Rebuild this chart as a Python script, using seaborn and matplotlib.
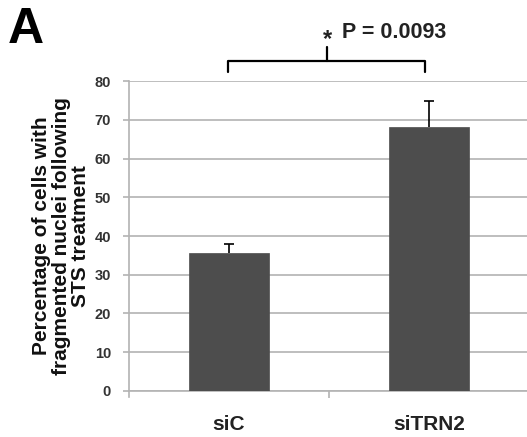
import matplotlib
matplotlib.use("Agg")
import matplotlib.pyplot as plt
import numpy as np
import pandas as pd
import seaborn as sns

# ─── Data ─────────────────────────────────────────────────────────────────────
groups = ["siC", "siTRN2"]
pct_fragmented = [35.6, 68.1]
err_upper = [2.3, 6.7]
y_ticks = [0, 10, 20, 30, 40, 50, 60, 70, 80]

BAR = "#4d4d4d"
GRID = "#b3b3b3"
TXT = "#333333"

sns.set_style("white")
plt.rcParams["font.family"] = ["Liberation Sans", "DejaVu Sans"]

df = pd.DataFrame({"group": groups, "pct": pct_fragmented})

fig = plt.figure(figsize=(5.27, 4.37), dpi=100)
ax = fig.add_axes([0.2448, 0.1053, 0.759, 0.7093])

sns.barplot(data=df, x="group", y="pct", color=BAR, width=0.4, ax=ax,
            edgecolor=BAR, linewidth=0.5, zorder=3)
_, caps, _ = ax.errorbar(np.arange(len(groups)), pct_fragmented,
                         yerr=[np.zeros(len(groups)), err_upper],
                         fmt="none", ecolor="black", elinewidth=1.2,
                         capsize=3.5, capthick=1.2, zorder=4)
caps[0].set_visible(False)  # one-sided error bars only

ax.set_xlim(-0.5, 1.5)
ax.set_ylim(0, 80)
ax.set_yticks(y_ticks)
ax.set_yticklabels([str(t) for t in y_ticks], fontsize=10.5, fontweight="bold", color=TXT)
ax.yaxis.grid(True, color=GRID, linewidth=1.2, zorder=0)
ax.set_axisbelow(True)
for s in ["top", "right"]:
    ax.spines[s].set_visible(False)
ax.spines["left"].set_color(GRID)
ax.spines["left"].set_linewidth(1.2)
ax.spines["bottom"].set_color(GRID)
ax.spines["bottom"].set_linewidth(1.2)
ax.spines["left"].set_bounds(-1.5, 80)

ax.tick_params(axis="y", which="major", left=True, length=4, width=1.2, color=GRID, pad=9)

# x ticks: labels under bars, tick mark only between categories
ax.set_xticks([0, 1])
ax.set_xticklabels(groups, fontsize=15, fontweight="bold", color="#222222")
ax.tick_params(axis="x", length=0, pad=17)
ax.set_xticks([0.5], minor=True)
ax.tick_params(axis="x", which="minor", bottom=True, length=5, width=1.2, color=GRID)
ax.set_xlabel("")
ax.set_ylabel("Percentage of cells with\nfragmented nuclei following\nSTS treatment",
              fontsize=15, fontweight="bold", color="#111111", labelpad=3,
              linespacing=1.05)

# significance bracket
bx0, bx1, bmid = -0.005, 0.98, 0.49
ylo, yhi, ytop = 82.4, 85.2, 88.8
ax.plot([bx0, bx0, bx1, bx1], [ylo, yhi, yhi, ylo], color="black", lw=1.6,
        clip_on=False, solid_joinstyle="round", solid_capstyle="round")
ax.plot([bmid, bmid], [yhi, ytop], color="black", lw=1.6, clip_on=False,
        solid_capstyle="round")
ax.text(bmid, 90.8, "*", ha="center", va="center", fontsize=17, fontweight="bold",
        color="#222222", clip_on=False)
ax.text(0.565, 92.4, "P = 0.0093", ha="left", va="center", fontsize=15.5,
        fontweight="bold", color="#222222", clip_on=False)

fig.text(0.015, 0.931, "A", fontsize=36, fontweight="bold", color="black",
         ha="left", va="center")

fig.savefig("out.png", dpi=100)
